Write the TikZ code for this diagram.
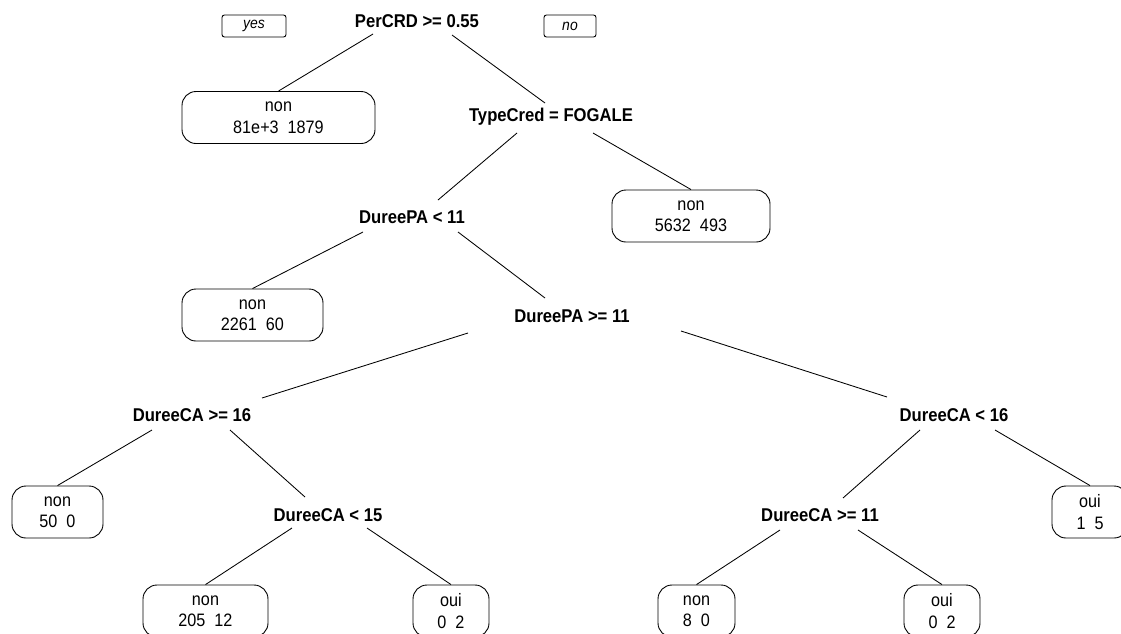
\documentclass[tikz,border=0pt]{standalone}
\usepackage{fontspec}
\setmainfont{Liberation Sans}[FakeStretch=0.9]
\begin{document}
\begin{tikzpicture}[x=1pt,y=-1pt,
  split/.style={inner sep=0pt, font=\fontsize{18.5}{21}\selectfont\bfseries},
  leaf/.style={draw, line width=0.9pt, rounded corners=14pt, minimum height=52pt,
               inner sep=0pt, align=center, font=\fontsize{18}{21.5}\selectfont},
  tag/.style={draw, line width=0.9pt, rounded corners=2.5pt, minimum height=22pt,
              inner sep=0pt, font=\fontsize{15.5}{17}\selectfont\itshape},
  branch/.style={line width=0.85pt}]
\useasboundingbox (0,0) rectangle (1121,633);
\clip (0,0) rectangle (1121,633);

% split labels
\node[split] (root) at (417,21)  {PerCRD >= 0.55};
\node[split] (tc)   at (551,117) {TypeCred = FOGALE};
\node[split] (pa1)  at (412,217) {DureePA < 11};
\node[split] (pa2)  at (572,316) {DureePA >= 11};
\node[split] (ca1)  at (192,415) {DureeCA >= 16};
\node[split] (ca2)  at (954,415) {DureeCA < 16};
\node[split] (ca3)  at (328,515) {DureeCA < 15};
\node[split] (ca4)  at (820,515) {DureeCA >= 11};

% yes / no tags
\node[tag, minimum width=64pt] (yes) at (254,26) {yes};
\node[tag, minimum width=52pt] (no)  at (570,26) {no};

% leaves
\node[leaf, minimum width=193pt] (l1) at (278.5,117.5) {non\\81e+3\ \ 1879};
\node[leaf, minimum width=158pt] (l2) at (691,216)     {non\\5632\ \ 493};
\node[leaf, minimum width=141pt] (l3) at (252.5,315)   {non\\2261\ \ 60};
\node[leaf, minimum width=91pt]  (l4) at (57.5,512)    {non\\50\ \ 0};
\node[leaf, minimum width=76pt]  (l5) at (1090,512)    {oui\\1\ \ 5};
\node[leaf, minimum width=125pt] (l6) at (205.5,611)   {non\\205\ \ 12};
\node[leaf, minimum width=76pt]  (l7) at (451,611)     {oui\\0\ \ 2};
\node[leaf, minimum width=77pt]  (l8) at (696.5,611)   {non\\8\ \ 0};
\node[leaf, minimum width=76pt]  (l9) at (942,611)     {oui\\0\ \ 2};

% branches
\draw[branch] ([shift={(-44,13)}]root.center) -- (l1.north);
\draw[branch] ([shift={(35,14)}]root.center)  -- ([shift={(-6,-14)}]tc.center);
\draw[branch] ([shift={(-34,16)}]tc.center)   -- ([shift={(26,-17)}]pa1.center);
\draw[branch] ([shift={(42,16)}]tc.center)    -- (l2.north);
\draw[branch] ([shift={(-49,15)}]pa1.center)  -- (l3.north);
\draw[branch] ([shift={(46,15)}]pa1.center)   -- ([shift={(-27,-18)}]pa2.center);
\draw[branch] ([shift={(-104,17)}]pa2.center) -- ([shift={(70,-17)}]ca1.center);
\draw[branch] ([shift={(109,15)}]pa2.center)  -- ([shift={(-67,-18)}]ca2.center);
\draw[branch] ([shift={(-40,15)}]ca1.center)  -- (l4.north);
\draw[branch] ([shift={(38,15)}]ca1.center)   -- ([shift={(-23,-18)}]ca3.center);
\draw[branch] ([shift={(-34,15)}]ca2.center)  -- ([shift={(23,-17)}]ca4.center);
\draw[branch] ([shift={(41,15)}]ca2.center)   -- (l5.north);
\draw[branch] ([shift={(-36,13)}]ca3.center)  -- (l6.north);
\draw[branch] ([shift={(39,13)}]ca3.center)   -- (l7.north);
\draw[branch] ([shift={(-40,15)}]ca4.center)  -- (l8.north);
\draw[branch] ([shift={(38,15)}]ca4.center)   -- (l9.north);
\end{tikzpicture}
\end{document}
